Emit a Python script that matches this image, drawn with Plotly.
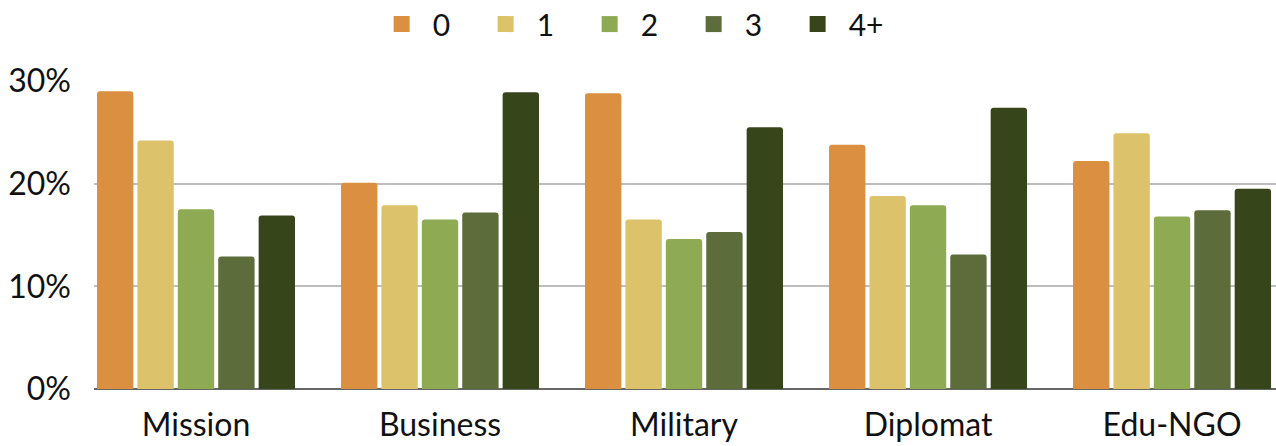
import plotly.graph_objects as go

categories = ["Mission", "Business", "Military", "Diplomat", "Edu-NGO"]
series_names = ["0", "1", "2", "3", "4+"]
share_0 = [0.290, 0.201, 0.288, 0.238, 0.222]
share_1 = [0.242, 0.179, 0.165, 0.188, 0.249]
share_2 = [0.175, 0.165, 0.146, 0.179, 0.168]
share_3 = [0.129, 0.172, 0.153, 0.131, 0.174]
share_4plus = [0.169, 0.289, 0.255, 0.274, 0.195]
tick_values = [0, 0.1, 0.2, 0.3]
tick_labels = ["0%", "10%", "20%", "30%"]

colors = ["#DB8F40", "#DCC36B", "#8EAB54", "#5D6C3B", "#36451A"]
series_values = [share_0, share_1, share_2, share_3, share_4plus]

fig = go.Figure()
for name, vals, col in zip(series_names, series_values, colors):
    fig.add_trace(go.Bar(
        x=categories, y=vals, name=name, showlegend=False,
        marker=dict(color=col, line=dict(width=0), cornerradius=3),
    ))
# legend swatches (larger squares than the default bar swatch)
for name, col in zip(series_names, colors):
    fig.add_trace(go.Scatter(
        x=[None], y=[None], mode="markers", name=name,
        marker=dict(symbol="square", size=16, color=col),
    ))

fig.update_layout(
    width=1276, height=446,
    margin=dict(l=94, r=0, t=81, b=57),
    paper_bgcolor="white", plot_bgcolor="white",
    font=dict(family="Lato", size=32, color="#111111"),
    barmode="group", bargap=0.172, bargroupgap=0.1,
    legend=dict(orientation="h", x=0.454, xanchor="center", y=0.946, yanchor="middle",
                yref="container", entrywidth=37, itemwidth=52, font=dict(size=30),
                itemclick=False),
    xaxis=dict(range=[-0.418, 4.426], showgrid=False, ticks="", showline=False,
               tickfont=dict(size=32), ticklabelstandoff=14),
    yaxis=dict(range=[0, 0.3], tickvals=tick_values, ticktext=tick_labels,
               showgrid=True, gridcolor="#BDBDBD", gridwidth=2, zeroline=True,
               zerolinecolor="#666666", zerolinewidth=2, ticks="", ticklabelstandoff=22,
               tickfont=dict(size=32)),
)
fig.write_html("out.html")
